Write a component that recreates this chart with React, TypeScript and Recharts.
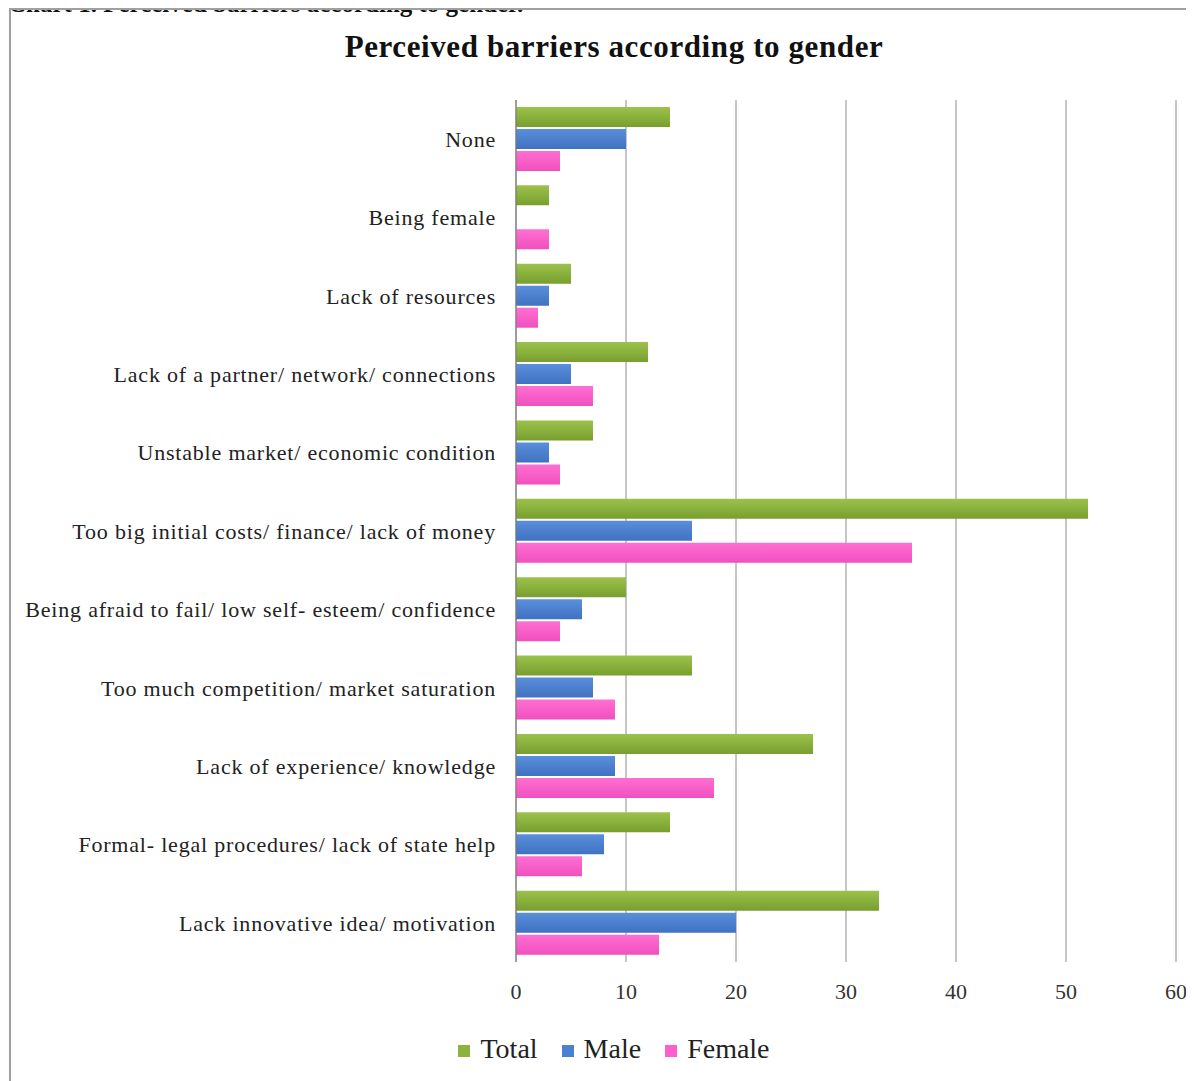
import { BarChart, Bar, XAxis, YAxis, CartesianGrid, Legend } from 'recharts'

const categories = [
  'None',
  'Being female',
  'Lack of resources',
  'Lack of a partner/ network/ connections',
  'Unstable market/ economic condition',
  'Too big initial costs/ finance/ lack of money',
  'Being afraid to fail/ low self- esteem/ confidence',
  'Too much competition/ market saturation',
  'Lack of experience/ knowledge',
  'Formal- legal procedures/ lack of state help',
  'Lack innovative idea/ motivation',
]

const totalValues = [14, 3, 5, 12, 7, 52, 10, 16, 27, 14, 33]
const maleValues = [10, 0, 3, 5, 3, 16, 6, 7, 9, 8, 20]
const femaleValues = [4, 3, 2, 7, 4, 36, 4, 9, 18, 6, 13]

const xTicks = [0, 10, 20, 30, 40, 50, 60]

const seriesInfo = [
  { key: 'total', name: 'Total', color: '#8cb43c', fill: 'url(#gTotal)' },
  { key: 'male', name: 'Male', color: '#4a80d0', fill: 'url(#gMale)' },
  { key: 'female', name: 'Female', color: '#ff5fcc', fill: 'url(#gFemale)' },
]

const data = categories.map((c, i) => ({
  category: c,
  total: totalValues[i],
  male: maleValues[i],
  female: femaleValues[i],
}))

const serif = '"Liberation Serif", "Times New Roman", serif'

function LegendContent() {
  return (
    <div style={{ display: 'flex', justifyContent: 'center', fontFamily: serif, fontSize: 28, color: '#222', height: 36, alignItems: 'center' }}>
      {seriesInfo.map((s) => (
        <div key={s.key} style={{ display: 'flex', alignItems: 'center', marginRight: 24 }}>
          <span style={{ display: 'inline-block', width: 12, height: 12, background: s.color, marginRight: 10, marginTop: 4 }} />
          <span>{s.name}</span>
        </div>
      ))}
    </div>
  )
}

export default function App() {
  return (
    <div style={{ position: 'relative', width: 1194, height: 1081, margin: '-8px 0 0 -8px', overflow: 'hidden', background: '#fff' }}>
      <div
        style={{
          position: 'absolute',
          top: -10,
          left: 8,
          fontFamily: serif,
          fontWeight: 'bold',
          fontSize: 25,
          color: '#111',
          whiteSpace: 'nowrap',
        }}
      >
        Chart 1. Perceived barriers according to gender.
      </div>
      <div
        style={{
          position: 'absolute',
          top: 8,
          left: 9,
          width: 1200,
          height: 1100,
          border: '2px solid #a0a0a0',
          boxShadow: '1px 1px 2px rgba(0,0,0,0.25)',
        }}
      />
      <div
        style={{
          position: 'absolute',
          top: 29,
          left: 0,
          width: 1194,
          textAlign: 'center',
          fontFamily: serif,
          fontWeight: 'bold',
          fontSize: 31,
          letterSpacing: 0.6,
          color: '#111',
          paddingLeft: 34,
          boxSizing: 'border-box',
        }}
      >
        Perceived barriers according to gender
      </div>
      <div style={{ position: 'absolute', top: 0, left: 0 }}>
        <BarChart
          width={1194}
          height={1081}
          data={data}
          layout="vertical"
          margin={{ top: 100, right: 18, bottom: 53, left: 16 }}
          barSize={20}
          barGap={2}
        >
          <defs>
            <linearGradient id="gTotal" x1="0" y1="0" x2="0" y2="1">
              <stop offset="0%" stopColor="#9cc24c" />
              <stop offset="100%" stopColor="#789f2e" />
            </linearGradient>
            <linearGradient id="gMale" x1="0" y1="0" x2="0" y2="1">
              <stop offset="0%" stopColor="#5a8fdc" />
              <stop offset="100%" stopColor="#3f72c0" />
            </linearGradient>
            <linearGradient id="gFemale" x1="0" y1="0" x2="0" y2="1">
              <stop offset="0%" stopColor="#ff6fd2" />
              <stop offset="100%" stopColor="#f050be" />
            </linearGradient>
          </defs>
          <CartesianGrid horizontal={false} stroke="#8c8c8c" />
          <XAxis
            type="number"
            domain={[0, 60]}
            ticks={xTicks}
            axisLine={false}
            tickLine={false}
            tickSize={6}
            tickMargin={15}
            tick={{ fontFamily: serif, fontSize: 22, fill: '#333' }}
          />
          <YAxis
            type="category"
            dataKey="category"
            width={500}
            axisLine={{ stroke: '#777' }}
            tickLine={false}
            tickSize={6}
            tickMargin={14}
            interval={0}
            tick={{ fontFamily: serif, fontSize: 22, letterSpacing: 0.8, fill: '#222' }}
          />
          <Legend
            verticalAlign="bottom"
            wrapperStyle={{ bottom: 14, left: 46 }}
            content={<LegendContent />}
          />
          {seriesInfo.map((s) => (
            <Bar key={s.key} dataKey={s.key} name={s.name} fill={s.fill} isAnimationActive={false} />
          ))}
        </BarChart>
      </div>
    </div>
  )
}
